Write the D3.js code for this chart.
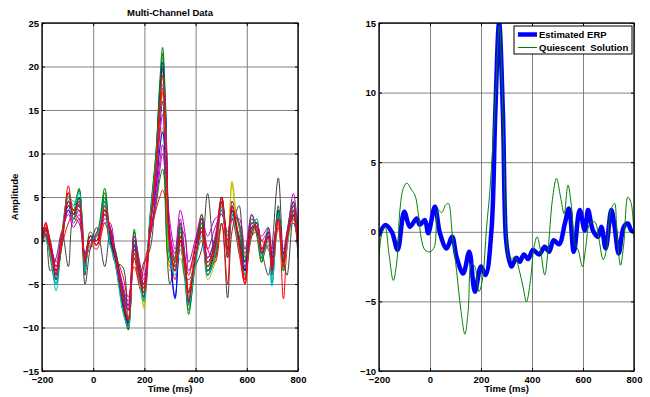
<!DOCTYPE html>
<html>
<head>
<meta charset="utf-8">
<script src="https://cdn.jsdelivr.net/npm/d3@7"></script>
<style>
  body { margin: 0; background: #fff; }
  text { font-family: "Liberation Sans", Arial, sans-serif; font-weight: bold; font-size: 9.5px; fill: #000; }
  .grid line { stroke: #808080; stroke-width: 1; }
  .grid path, .lab path, .tk path { display: none; }
  .tk line { stroke: #000; }
</style>
</head>
<body>
<svg id="chart" width="650" height="397"></svg>
<script>
// sample times (ms) shared by every channel of the left panel
var times = [-200,-185,-168,-145,-122,-97,-77,-55, -32,-12,14,45,66,85,115,137,
  160,182,198,222,245,260,271,283, 300,320,340,358,373,398,424,447,
  476,502,525,542,570,593,619,639, 658,684,698,723,743,757,782,800];

var ch01 = [0.2,1.2,-0.5,-3.8,0.3,4.0,2.5,4.2, -2.0,0.5,-0.5,3.5,1.0,-1.5,-6.0,-8.0,
  -0.5,-4.0,-5.0,1.5,7.0,13.0,16.0,11.0, -1.5,-3.5,0.5,-2.5,-6.5,-1.5,1.5,-2.5,
  -0.5,4.0,-1.5,3.5,0.0,-3.5,1.0,2.0, -1.0,0.5,-2.5,2.0,-2.0,0.0,2.5,-0.5];
var ch02 = [1.0,0.5,-1.5,-4.5,0.5,5.0,4.0,5.8, -2.8,0.0,0.8,6.0,0.0,-2.5,-7.5,-10.2,
  1.3,-4.5,-6.0,2.5,10.0,18.2,22.2,15.5, -0.5,-2.5,1.0,-3.5,-8.5,-2.5,2.5,-4.0,
  -2.0,5.0,-0.5,4.5,1.5,-2.5,2.5,1.0, -2.0,1.0,-3.5,3.5,-3.0,0.5,4.0,-1.5];
var ch03 = [-0.5,2.1,-1.0,-3.5,-0.5,6.3,3.5,4.0, -2.2,-0.5,0.5,3.0,0.5,-2.0,-6.0,-9.0,
  -2.0,-5.5,-6.5,1.0,9.0,16.0,19.7,13.5, -1.0,-4.5,-1.0,-3.5,-6.0,-2.0,0.0,-3.5,
  -1.5,4.5,-2.0,3.5,-1.0,-4.5,2.0,1.5, -2.0,-0.5,-3.0,2.5,-6.7,-1.0,3.5,-1.0];
var ch04 = [1.5,1.0,-1.0,-5.8,0.0,4.5,3.0,5.0, -3.0,-0.5,-0.5,4.0,0.0,-2.0,-7.0,-9.5,
  -1.5,-4.0,-6.5,2.0,9.5,17.0,21.0,15.0, -1.0,-3.0,-0.5,-2.5,-7.0,-2.5,1.0,-3.0,
  -1.0,4.5,-1.0,3.0,-1.0,-3.5,1.5,2.0, -1.5,0.5,-5.0,2.5,-2.5,0.0,3.0,-2.0];
var ch05 = [0.8,1.0,-0.3,-3.0,0.5,3.5,2.0,3.0, -2.0,0.0,-0.5,2.5,1.5,-1.0,-5.0,-7.0,
  0.5,-3.0,-4.0,1.0,4.5,8.0,10.0,7.0, 0.5,-1.5,1.5,0.5,-3.5,-1.0,2.0,-1.0,
  1.5,3.0,0.0,4.5,2.0,-1.5,2.0,2.0, 0.0,1.0,-1.5,2.0,-1.5,0.5,5.4,1.0];
var ch06 = [-0.5,0.5,-1.5,-4.5,-0.5,4.0,3.5,4.0, -2.5,-0.5,-0.5,3.5,-0.5,-2.0,-6.5,-10.0,
  -1.5,-5.0,-7.5,1.5,6.0,10.5,13.0,9.5, -3.0,-3.5,-2.0,-4.5,-5.5,-2.0,0.5,-4.5,
  -2.5,4.0,-1.5,6.5,-1.5,-3.0,0.5,1.5, -2.0,0.0,-3.5,1.5,-3.5,-0.5,2.5,-1.0];
var ch07 = [-0.5,1.0,-3.5,-2.0,1.0,-3.0,2.5,2.0, -5.0,-1.0,1.5,-3.0,1.0,-2.5,-3.0,-10.3,
  -2.0,-4.0,-2.5,-1.0,7.0,15.0,17.0,3.0, -5.0,-2.0,2.0,-4.0,-4.5,-3.0,-1.0,5.4,
  -2.0,2.0,-6.6,1.0,4.0,-3.5,0.5,2.0, -1.0,-4.0,-1.0,7.2,-2.0,-4.0,3.0,-1.0];
var ch08 = [0.0,1.5,0.0,-3.5,0.5,3.5,2.5,3.5, -1.5,0.5,0.0,3.0,1.5,-1.0,-5.5,-7.5,
  -0.5,-3.5,-5.0,2.0,6.0,10.5,12.5,9.0, -1.0,-6.5,0.0,-2.0,-7.0,-1.0,2.5,-2.0,
  0.0,3.5,-0.5,3.0,0.5,-2.5,1.5,1.0, -1.5,1.0,-2.0,3.5,-1.5,0.5,2.0,0.0];
var ch09 = [0.5,1.2,-1.0,-4.0,-0.5,4.5,3.5,6.0, -2.0,0.0,0.5,5.5,0.5,-2.0,-6.0,-8.0,
  1.0,-3.5,-5.5,0.5,4.0,7.0,8.2,5.5, -2.0,-3.0,2.0,-1.5,-6.0,-2.0,2.0,-3.0,
  0.0,5.0,-1.0,2.5,0.5,-2.5,2.0,2.0, -2.5,0.5,-3.0,2.5,-2.0,0.5,3.0,-1.0];
var ch10 = [1.0,1.8,0.0,-3.0,-0.5,2.0,3.0,2.5, -1.5,-0.5,-1.0,2.0,0.0,-1.5,-4.0,-6.5,
  -3.0,-5.0,-3.0,0.5,3.5,5.0,5.8,4.5, 0.0,-2.0,0.5,-2.0,-4.0,-0.5,3.0,-1.0,
  -2.5,2.0,-5.0,2.5,-1.5,-5.0,0.5,1.0, 0.0,-1.0,-2.5,1.5,-3.0,0.0,2.5,-0.5];
var ch11 = [0.5,1.5,-0.5,-4.5,0.0,5.0,3.5,5.5, -2.5,0.0,0.0,4.5,0.5,-2.0,-7.0,-9.0,
  -1.0,-4.5,-6.0,2.5,8.5,15.0,18.0,12.5, -1.5,-3.0,0.0,-3.0,-7.0,-2.0,1.0,-3.5,
  -1.0,4.0,-1.5,4.0,-0.5,-3.0,1.0,2.5, -1.5,-0.5,-5.2,2.5,-2.0,0.0,3.5,-1.5];
var ch12 = [1.2,1.0,-0.5,-3.5,0.5,4.0,3.0,4.0, -3.0,0.5,-0.5,3.0,1.0,-1.5,-6.5,-8.0,
  0.0,-3.5,-5.0,1.5,6.5,12.0,14.5,10.0, 1.0,-2.5,2.5,-2.0,-6.0,-1.5,1.5,-2.0,
  0.5,5.0,0.0,3.0,0.0,-3.0,2.0,1.0, -1.0,1.0,-2.5,2.0,-2.5,-0.5,4.5,0.0];
var ch13 = [0.0,1.0,-1.0,-4.0,0.0,4.5,2.5,4.5, -2.0,-0.5,0.0,4.0,0.5,-2.0,-7.0,-9.5,
  -1.0,-4.0,-7.8,2.0,8.0,14.0,17.0,12.0, -3.5,-2.0,-1.0,-3.0,-6.5,-1.5,1.0,-3.0,
  -1.0,4.0,-0.5,6.8,-0.5,-4.0,1.0,1.5, -1.5,0.0,-3.0,2.0,-2.5,-0.5,2.5,-1.0];
var ch14 = [0.5,0.5,-1.0,-4.0,0.5,4.0,3.5,4.0, -4.0,0.5,0.5,3.5,0.0,-2.0,-7.5,-9.5,
  -0.5,-4.0,-6.0,2.0,9.0,16.5,20.0,14.0, -1.0,-3.5,0.5,-3.0,-7.5,-2.5,1.5,-3.5,
  -1.0,4.5,-2.0,3.5,0.0,-4.0,1.5,2.0, -2.0,0.5,-4.0,3.0,-2.5,0.0,3.5,-1.0];
var ch15 = [0.0,1.5,-0.5,-4.5,0.0,4.5,3.0,5.0, -2.5,0.0,0.0,4.5,0.5,-2.0,-7.0,-9.5,
  -1.0,-4.5,-6.5,2.0,9.5,17.0,20.5,14.5, -1.5,-6.7,0.0,-3.0,-7.2,-2.0,1.0,-4.0,
  -1.0,4.5,-1.0,4.0,-0.5,-3.5,1.5,1.5, -1.5,0.5,-3.5,3.0,-2.5,0.0,3.0,-1.0];
var ch16 = [0.0,0.8,-2.0,-5.0,1.0,5.5,2.5,5.0, -3.5,1.0,0.0,5.0,-0.5,-1.0,-8.0,-9.8,
  0.0,-3.0,-7.0,3.0,10.0,17.5,21.5,14.0, -2.5,-2.0,1.5,-4.5,-8.0,-3.0,3.0,-3.5,
  -1.5,4.5,0.5,3.0,2.0,-2.0,3.0,0.5, -2.5,1.5,-3.0,4.0,-3.5,1.0,4.5,-2.0];
var ch17 = [1.5,0.5,-0.5,-2.5,1.0,3.0,1.5,2.5, -1.5,-1.0,1.0,2.0,2.0,-1.5,-5.5,-7.5,
  0.5,-2.5,-4.5,0.5,5.0,9.0,11.0,8.0, 2.0,-1.0,3.5,1.0,-2.5,0.0,2.5,0.5,
  2.5,3.0,1.0,2.5,2.5,-1.0,3.0,1.5, 0.5,1.5,-1.0,2.5,-1.0,1.0,4.0,2.0];
var ch18 = [1.0,0.0,-1.5,-5.0,0.5,5.0,4.5,4.5, -3.5,0.0,0.5,4.5,-0.5,-2.5,-8.0,-10.0,
  -1.0,-5.0,-7.0,2.5,9.0,15.5,19.0,13.5, -2.0,-4.0,-0.5,-4.0,-7.5,-3.0,0.5,-4.0,
  -1.5,4.0,-1.5,3.0,-1.0,-4.0,1.0,2.5, -2.0,0.0,-5.2,3.0,-3.0,-0.5,3.5,-1.5];
var ch19 = [0.5,2.0,-0.5,-4.0,0.0,5.5,3.0,4.5, -2.5,0.0,0.0,4.0,1.0,-1.5,-6.5,-9.0,
  -1.5,-4.5,-6.0,1.5,8.5,15.5,19.0,13.0, -1.0,-3.0,0.0,-3.0,-6.0,-2.0,1.5,-3.0,
  -1.0,5.0,-1.5,4.0,-0.5,-5.0,1.5,1.5, -1.5,0.5,-3.5,2.5,-3.0,0.0,3.5,-1.0];
var ch20 = [-0.5,1.5,-1.0,-3.5,0.5,4.5,3.5,3.5, -2.0,0.5,-0.5,3.5,1.5,-1.5,-6.5,-9.2,
  -1.0,-3.5,-5.5,1.5,8.0,14.0,17.5,12.5, -0.5,-3.5,0.5,-2.5,-7.0,-2.0,1.0,-2.5,
  -0.5,4.5,-1.0,4.0,0.0,-4.5,1.0,2.0, -1.0,0.5,-3.0,2.5,-2.5,0.5,3.0,-1.0];

var channels = [ch01, ch02, ch03, ch04, ch05, ch06, ch07, ch08, ch09, ch10,
  ch11, ch12, ch13, ch14, ch15, ch16, ch17, ch18, ch19, ch20];
var channelColors = ["#0000ff", "#008000", "#ff0000", "#00bfbf", "#bf00bf", "#bfbf00", "#404040",
  "#0000ff", "#008000", "#ff0000", "#00bfbf", "#bf00bf", "#bfbf00", "#404040",
  "#0000ff", "#008000", "#bf00bf", "#00bfbf", "#ff0000", "#ff0000"];

// right panel
var erpTimes = [-200,-176,-150,-127,-101,-79,-52,-40,-20,-7,19,39,65,87,104,130,154,176,200,218,
  241,256,271,286,298,310,320,339,352,368,385,404,428,450,467,485,506,529,545,564,587,607,620,639,
  659,672,689,711,724,740,760,776,789,800];
var erpValues = [-0.3,0.48,0.0,-1.3,1.44,0.36,0.96,0.5,0.84,-0.1,1.8,-0.1,-1.2,-0.36,-1.8,-3.0,-1.44,-4.3,-2.5,-3.1,
  0.1,8.5,15.0,8.5,-0.5,-2.0,-2.5,-1.87,-2.16,-1.63,-1.96,-1.3,-1.63,-1.08,-1.44,-0.6,-0.9,0.6,1.68,-1.44,1.56,0.1,1.56,0.1,
  -0.36,0.36,-1.2,1.56,0.36,-1.56,0.36,0.6,0.1,0.0];
var qsTimes = [-200,-190,-176,-161,-144,-131,-118,-105,-91,-72,-59,-46,-33,-20,0,17,32,46,61,72,87,104,121,137,150,
  163,176,192,205,222,235,255,272,288,300,313,333,350,365,378,394,408,420,433,450,463,480,496,512,526,541,555,
  568,581,598,611,627,646,663,679,692,709,724,732,747,760,776,789,800];
var qsValues = [-1.8,-0.2,0.36,-1.56,-3.5,-2.3,1.56,3.1,3.5,3.0,2.64,1.3,-0.6,-1.3,-1.44,-1.08,1.56,1.37,1.92,2.04,-0.1,-2.76,-5.6,-7.36,-5.6,
  -2.3,-2.5,-4.3,-3.5,0.36,3.0,9.0,14.8,7.0,-0.5,-2.0,-1.8,-2.76,-3.96,-5.04,-3.5,-1.08,-0.36,-1.3,-3.1,-1.3,2.3,3.84,2.5,1.3,3.36,1.8,
  -0.84,-1.3,-2.5,-1.08,0.6,0.72,-0.6,-2.0,-1.3,1.56,2.04,0.36,-2.4,-0.84,2.5,2.04,-0.4];

var xTicks = [-200, 0, 200, 400, 600, 800];
var leftYTicks = [-15, -10, -5, 0, 5, 10, 15, 20, 25];
var rightYTicks = [-10, -5, 0, 5, 10, 15];

var svg = d3.select("#chart");

function drawPanel(id, left, top, width, height, yDomain, yTicks) {
  var g = svg.append("g").attr("transform", "translate(" + left + "," + top + ")");
  var x = d3.scaleLinear().domain([-200, 800]).range([0, width]);
  var y = d3.scaleLinear().domain(yDomain).range([height, 0]);

  g.append("clipPath").attr("id", id).append("rect")
    .attr("width", width).attr("height", height);

  // grid
  g.append("g").attr("class", "grid")
    .attr("transform", "translate(0," + height + ")")
    .call(d3.axisBottom(x).tickValues(xTicks).tickSize(-height).tickFormat(""));
  g.append("g").attr("class", "grid")
    .call(d3.axisLeft(y).tickValues(yTicks).tickSize(-width).tickFormat(""));

  var layer = g.append("g").attr("clip-path", "url(#" + id + ")");

  // tick labels
  g.append("g").attr("class", "lab")
    .attr("transform", "translate(0," + height + ")")
    .call(d3.axisBottom(x).tickValues(xTicks).tickSize(0).tickPadding(5));
  g.append("g").attr("class", "lab")
    .call(d3.axisLeft(y).tickValues(yTicks).tickSize(0).tickPadding(3));
  g.selectAll(".lab").attr("font-family", null).attr("font-size", null);
  g.selectAll(".lab text").style("fill", "#000");

  // inward ticks on all four sides
  g.append("g").attr("class", "tk").attr("transform", "translate(0," + height + ")")
    .call(d3.axisBottom(x).tickValues(xTicks).tickSize(-3).tickFormat(""));
  g.append("g").attr("class", "tk")
    .call(d3.axisTop(x).tickValues(xTicks).tickSize(-3).tickFormat(""));
  g.append("g").attr("class", "tk")
    .call(d3.axisLeft(y).tickValues(yTicks).tickSize(-3).tickFormat(""));
  g.append("g").attr("class", "tk").attr("transform", "translate(" + width + ",0)")
    .call(d3.axisRight(y).tickValues(yTicks).tickSize(-3).tickFormat(""));

  g.append("rect").attr("width", width).attr("height", height)
    .attr("fill", "none").attr("stroke", "#000").attr("stroke-width", 1.3);

  g.append("text").attr("x", width / 2).attr("y", height + 21)
    .attr("text-anchor", "middle").text("Time (ms)");

  return { g: g, layer: layer, x: x, y: y, width: width, height: height };
}

// left panel: multi-channel data
var p1 = drawPanel("clipL", 42, 23, 256, 348, [-15, 25], leftYTicks);
var line1 = d3.line()
  .x(function (d) { return p1.x(d[0]); })
  .y(function (d) { return p1.y(d[1]); })
  .curve(d3.curveCatmullRom.alpha(0.5));

p1.layer.selectAll(".chan")
  .data(channels)
  .enter()
  .append("path")
  .attr("class", "chan")
  .attr("d", function (vals) {
    return line1(vals.map(function (v, i) { return [times[i], v]; }));
  })
  .attr("fill", "none")
  .attr("stroke", function (d, i) { return channelColors[i]; })
  .attr("stroke-width", 1);

p1.g.append("text").attr("x", p1.width / 2).attr("y", -7)
  .attr("text-anchor", "middle").text("Multi-Channel Data");
p1.g.append("text")
  .attr("transform", "translate(-24," + p1.height / 2 + ") rotate(-90)")
  .attr("text-anchor", "middle").text("Amplitude");

// right panel: estimated ERP vs quiescent solution
var p2 = drawPanel("clipR", 379, 23, 255, 348, [-10, 15], rightYTicks);
var line2 = d3.line()
  .x(function (d) { return p2.x(d[0]); })
  .y(function (d) { return p2.y(d[1]); })
  .curve(d3.curveCatmullRom.alpha(0.5));

var erp = erpTimes.map(function (t, i) { return [t, erpValues[i]]; });
var qs = qsTimes.map(function (t, i) { return [t, qsValues[i]]; });

p2.layer.append("path").attr("d", line2(erp))
  .attr("fill", "none").attr("stroke", "#0000ff").attr("stroke-width", 4.5)
  .attr("stroke-linejoin", "round");
p2.layer.append("path").attr("d", line2(qs))
  .attr("fill", "none").attr("stroke", "#008000").attr("stroke-width", 1);

// legend
var leg = p2.g.append("g").attr("transform", "translate(135,3)");
leg.append("rect").attr("width", 118).attr("height", 28)
  .attr("fill", "#fff").attr("stroke", "#000").attr("stroke-width", 1);
leg.append("line").attr("x1", 4).attr("x2", 23).attr("y1", 8.5).attr("y2", 8.5)
  .attr("stroke", "#0000ff").attr("stroke-width", 4.5);
leg.append("text").attr("x", 25).attr("y", 12).text("Estimated ERP");
leg.append("line").attr("x1", 4).attr("x2", 23).attr("y1", 21.5).attr("y2", 21.5)
  .attr("stroke", "#008000").attr("stroke-width", 1);
leg.append("text").attr("x", 25).attr("y", 25).style("white-space", "pre")
  .text("Quiescent  Solution");
</script>
</body>
</html>
